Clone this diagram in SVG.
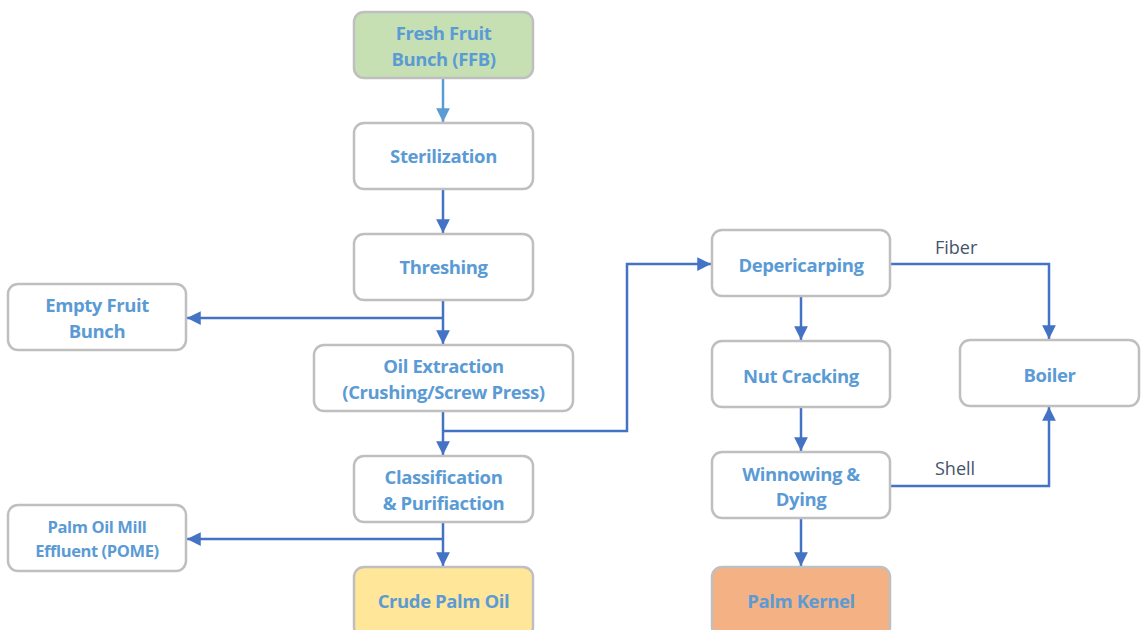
<svg xmlns="http://www.w3.org/2000/svg" width="1144" height="630" viewBox="0 0 1144 630">
<defs>
<style>
.box{fill:#ffffff;stroke:#bfbfbf;stroke-width:2.5}
.t{font-family:"Open Sans","Liberation Sans",sans-serif;font-weight:bold;font-size:18.5px;fill:#5b9bd5;text-anchor:middle;letter-spacing:-0.4px}
.lbl{font-family:"Open Sans","Liberation Sans",sans-serif;font-size:18px;fill:#44546a}
.c{fill:none;stroke:#4472c4;stroke-width:2.5}
</style>
<marker id="ah" viewBox="0 0 10 10" refX="10" refY="5" markerWidth="5.5" markerHeight="5.5" orient="auto" markerUnits="strokeWidth"><path d="M0,0 L10,5 L0,10 z" fill="#4472c4"/></marker>
<marker id="ah2" viewBox="0 0 10 10" refX="10" refY="5" markerWidth="5.5" markerHeight="5.5" orient="auto" markerUnits="strokeWidth"><path d="M0,0 L10,5 L0,10 z" fill="#5b9bd5"/></marker>
</defs>
<g id="connectors">
<path class="c" style="stroke:#5b9bd5" d="M443,78 V122" marker-end="url(#ah2)"/>
<path class="c" d="M443,189 V233" marker-end="url(#ah)"/>
<path class="c" d="M443,300 V344" marker-end="url(#ah)"/>
<path class="c" d="M443,318 H187" marker-end="url(#ah)"/>
<path class="c" d="M443,411 V455" marker-end="url(#ah)"/>
<path class="c" d="M443,431 H627 V264 H711" marker-end="url(#ah)"/>
<path class="c" d="M443,522 V566" marker-end="url(#ah)"/>
<path class="c" d="M443,539 H187" marker-end="url(#ah)"/>
<path class="c" d="M801,296 V340" marker-end="url(#ah)"/>
<path class="c" d="M890,264 H1049 V339" marker-end="url(#ah)"/>
<path class="c" d="M801,407 V451" marker-end="url(#ah)"/>
<path class="c" d="M801,518 V566" marker-end="url(#ah)"/>
<path class="c" d="M890,486 H1049 V407" marker-end="url(#ah)"/>
<text class="lbl" x="935" y="254">Fiber</text>
<text class="lbl" x="935" y="475">Shell</text>
</g>
<g id="ffb"><rect class="box" style="fill:#c6e0b4" x="354" y="12" width="179" height="66" rx="10"/><text class="t" x="443.5" y="40">Fresh Fruit</text><text class="t" x="443.5" y="66">Bunch (FFB)</text></g>
<g id="sterilization"><rect class="box" x="354" y="123" width="179" height="66" rx="10"/><text class="t" x="443.5" y="163">Sterilization</text></g>
<g id="threshing"><rect class="box" x="354" y="234" width="179" height="66" rx="10"/><text class="t" x="443.5" y="274">Threshing</text></g>
<g id="efb"><rect class="box" x="8" y="284" width="178" height="66" rx="10"/><text class="t" x="97" y="312">Empty Fruit</text><text class="t" x="97" y="338">Bunch</text></g>
<g id="extraction"><rect class="box" x="314" y="345" width="259" height="66" rx="10"/><text class="t" x="443.5" y="373">Oil Extraction</text><text class="t" x="443.5" y="399">(Crushing/Screw Press)</text></g>
<g id="classification"><rect class="box" x="354" y="456" width="179" height="66" rx="10"/><text class="t" x="443.5" y="484">Classification</text><text class="t" x="443.5" y="510">&amp; Purifiaction</text></g>
<g id="pome"><rect class="box" x="8" y="505" width="178" height="66" rx="10"/><text class="t" style="font-size:16.5px" x="97" y="533">Palm Oil Mill</text><text class="t" style="font-size:16.5px" x="97" y="557">Effluent (POME)</text></g>
<g id="cpo"><rect class="box" style="fill:#ffe699" x="354" y="567" width="179" height="70" rx="10"/><text class="t" x="443.5" y="608">Crude Palm Oil</text></g>
<g id="depericarping"><rect class="box" x="712" y="230" width="178" height="66" rx="10"/><text class="t" x="801" y="272">Depericarping</text></g>
<g id="nutcracking"><rect class="box" x="712" y="341" width="178" height="66" rx="10"/><text class="t" x="801" y="383">Nut Cracking</text></g>
<g id="boiler"><rect class="box" x="960" y="340" width="179" height="66" rx="10"/><text class="t" x="1049.5" y="382">Boiler</text></g>
<g id="winnowing"><rect class="box" x="712" y="452" width="178" height="66" rx="10"/><text class="t" x="801" y="481">Winnowing &amp;</text><text class="t" x="801" y="506">Dying</text></g>
<g id="kernel"><rect class="box" style="fill:#f4b183" x="712" y="567" width="178" height="70" rx="10"/><text class="t" x="801" y="608">Palm Kernel</text></g>
</svg>
